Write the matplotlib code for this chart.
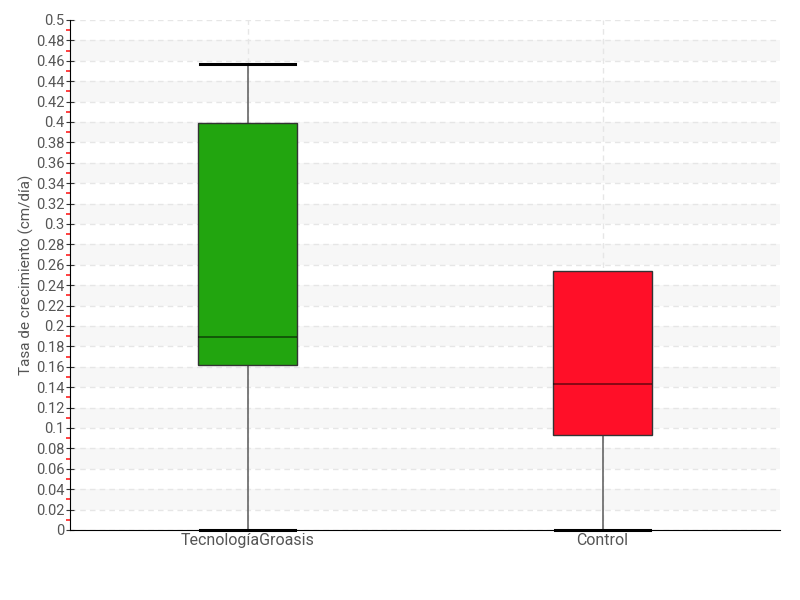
import numpy as np
import matplotlib.pyplot as plt

# box statistics (cm/dia)
groups = ['TecnologíaGroasis', 'Control']
whislo = [0.0, 0.0]
q1 = [0.162, 0.093]
med = [0.189, 0.143]
q3 = [0.399, 0.254]
whishi = [0.457, 0.254]
colors = ['#22a50f', '#ff0f28']

plt.rcParams['font.family'] = ['Roboto', 'DejaVu Sans']

fig = plt.figure(figsize=(8, 6), dpi=100)
ax = fig.add_axes([0.0875, 0.1167, 0.8875, 0.85])

# alternating background bands every 0.02
for lo in np.arange(0.02, 0.5, 0.04):
    ax.axhspan(lo, lo + 0.02, color='#f7f7f7', zorder=0, lw=0)

stats = []
for i in range(len(groups)):
    stats.append({'label': groups[i], 'whislo': whislo[i], 'q1': q1[i], 'med': med[i],
                  'q3': q3[i], 'whishi': whishi[i], 'fliers': []})

bp = ax.bxp(stats, positions=[0, 1], widths=0.28, patch_artist=True, showfliers=False,
            boxprops=dict(edgecolor='#333333', linewidth=1),
            medianprops=dict(color='black', alpha=0.55, linewidth=1.2),
            whiskerprops=dict(color='#666666', linewidth=1.2),
            capprops=dict(color='black', linewidth=2.2), capwidths=0.27)
for patch, c in zip(bp['boxes'], colors):
    patch.set_facecolor(c)
    patch.set_zorder(3)
for m in bp['medians']:
    m.set_zorder(4)
for k, cap in enumerate(bp['caps']):
    cap.set_clip_on(False)
    cap.set_zorder(4)
    # upper cap hidden when the whisker is flat on the box
    i = k // 2
    if k % 2 == 1 and whishi[i] == q3[i]:
        cap.set_visible(False)

ax.set_xlim(-0.5, 1.5)
ax.set_ylim(0, 0.5)
yt = np.round(np.arange(0, 0.501, 0.02), 2)
ax.set_yticks(yt)
ax.set_yticklabels([('%g' % v) for v in yt])
ax.set_yticks(np.arange(0.01, 0.5, 0.02), minor=True)
ax.tick_params(axis='y', which='major', direction='inout', length=6, color='#333333',
               labelsize=10.5, labelcolor='#555555', pad=1)
ax.tick_params(axis='y', which='minor', direction='out', length=3, width=1.2, color='#ff2020')
ax.tick_params(axis='x', length=0, labelsize=11.5, labelcolor='#555555', pad=2)

ax.grid(True, axis='both', which='major', linestyle=(0, (4, 3)), color='#e6e6e6', linewidth=1, zorder=1)
ax.set_axisbelow(True)
for s in ['top', 'right']:
    ax.spines[s].set_visible(False)
ax.spines['left'].set_color('black')
ax.spines['bottom'].set_color('black')

ax.set_ylabel('Tasa de crecimiento (cm/día)', fontsize=11, color='#555555')
ax.yaxis.set_label_coords(-0.05, 0.5)

fig.savefig('out.png')
